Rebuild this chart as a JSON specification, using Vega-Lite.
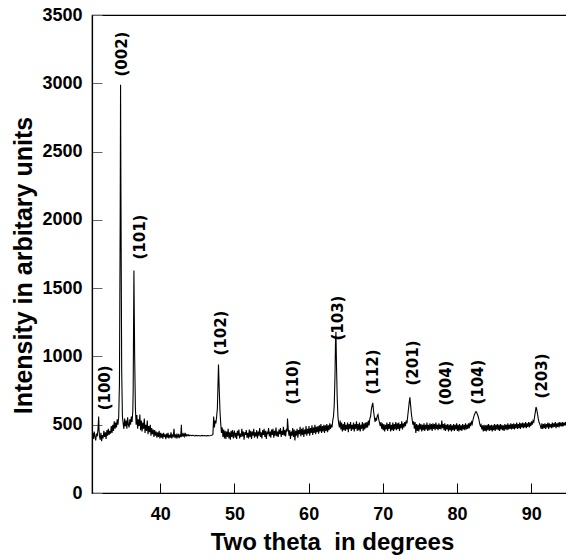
{
  "$schema": "https://vega.github.io/schema/vega-lite/v6.json",
  "autosize": {"type": "none"},
  "padding": {"left": 92, "top": 15, "right": 0, "bottom": 67},
  "width": 480,
  "height": 478,
  "background": "white",
  "config": {
    "view": {"stroke": "black", "strokeWidth": 1.2},
    "axis": {
      "grid": false,
      "labelFont": "Liberation Sans",
      "labelFontWeight": "bold",
      "labelFontSize": 18,
      "labelColor": "black",
      "titleFont": "Liberation Sans",
      "titleFontWeight": "bold",
      "titleFontSize": 24,
      "titleColor": "black",
      "domainColor": "black",
      "domainWidth": 1.2,
      "tickColor": "black",
      "tickSize": -10
    }
  },
  "datasets": {
    "xrd": [
      {"x":30.8,"y":405},{"x":30.9,"y":440},{"x":31.0,"y":395},{"x":31.1,"y":450},{"x":31.2,"y":410},{"x":31.3,"y":385},{"x":31.4,"y":435},{"x":31.5,"y":415},{"x":31.6,"y":460},{"x":31.7,"y":560},{"x":31.75,"y":470},{"x":31.8,"y":420},{"x":31.9,"y":390},{"x":32.0,"y":440},{"x":32.1,"y":380},{"x":32.2,"y":425},{"x":32.3,"y":400},{"x":32.4,"y":455},{"x":32.5,"y":410},{"x":32.6,"y":445},{"x":32.7,"y":395},{"x":32.8,"y":460},{"x":32.9,"y":420},{"x":33.0,"y":470},{"x":33.1,"y":425},{"x":33.2,"y":455},{"x":33.3,"y":435},{"x":33.4,"y":490},{"x":33.5,"y":440},{"x":33.6,"y":500},{"x":33.7,"y":455},{"x":33.8,"y":525},{"x":33.9,"y":470},{"x":34.0,"y":515},{"x":34.1,"y":480},{"x":34.2,"y":540},{"x":34.3,"y":500},{"x":34.4,"y":560},{"x":34.5,"y":800},{"x":34.6,"y":2000},{"x":34.65,"y":2990},{"x":34.7,"y":2200},{"x":34.8,"y":900},{"x":34.9,"y":560},{"x":35.0,"y":510},{"x":35.1,"y":470},{"x":35.2,"y":545},{"x":35.3,"y":490},{"x":35.4,"y":530},{"x":35.5,"y":470},{"x":35.6,"y":555},{"x":35.7,"y":500},{"x":35.8,"y":480},{"x":35.9,"y":540},{"x":36.0,"y":500},{"x":36.1,"y":560},{"x":36.2,"y":520},{"x":36.3,"y":600},{"x":36.35,"y":750},{"x":36.45,"y":1630},{"x":36.55,"y":1000},{"x":36.65,"y":620},{"x":36.75,"y":500},{"x":36.85,"y":570},{"x":36.95,"y":470},{"x":37.05,"y":540},{"x":37.15,"y":490},{"x":37.25,"y":575},{"x":37.35,"y":460},{"x":37.45,"y":530},{"x":37.55,"y":450},{"x":37.65,"y":515},{"x":37.75,"y":470},{"x":37.85,"y":545},{"x":37.95,"y":440},{"x":38.05,"y":500},{"x":38.15,"y":455},{"x":38.25,"y":530},{"x":38.35,"y":430},{"x":38.45,"y":490},{"x":38.55,"y":445},{"x":38.65,"y":500},{"x":38.75,"y":420},{"x":38.85,"y":475},{"x":38.95,"y":430},{"x":39.05,"y":465},{"x":39.15,"y":410},{"x":39.25,"y":460},{"x":39.35,"y":420},{"x":39.45,"y":450},{"x":39.55,"y":405},{"x":39.65,"y":445},{"x":39.75,"y":410},{"x":39.85,"y":455},{"x":39.95,"y":400},{"x":40.05,"y":440},{"x":40.15,"y":405},{"x":40.25,"y":435},{"x":40.35,"y":398},{"x":40.45,"y":440},{"x":40.55,"y":410},{"x":40.65,"y":430},{"x":40.75,"y":395},{"x":40.85,"y":435},{"x":40.95,"y":405},{"x":41.05,"y":440},{"x":41.15,"y":400},{"x":41.25,"y":425},{"x":41.35,"y":405},{"x":41.45,"y":445},{"x":41.55,"y":400},{"x":41.65,"y":430},{"x":41.75,"y":408},{"x":41.85,"y":470},{"x":41.95,"y":405},{"x":42.05,"y":430},{"x":42.15,"y":400},{"x":42.25,"y":435},{"x":42.35,"y":410},{"x":42.45,"y":425},{"x":42.55,"y":402},{"x":42.65,"y":430},{"x":42.75,"y":410},{"x":42.85,"y":500},{"x":42.9,"y":420},{"x":43.0,"y":430},{"x":43.1,"y":412},{"x":43.2,"y":440},{"x":43.3,"y":415},{"x":43.4,"y":432},{"x":43.5,"y":418},{"x":43.6,"y":428},{"x":43.7,"y":420},{"x":43.8,"y":426},{"x":43.9,"y":418},{"x":44.0,"y":424},{"x":44.2,"y":420},{"x":44.4,"y":423},{"x":44.6,"y":418},{"x":44.8,"y":422},{"x":45.0,"y":419},{"x":45.2,"y":421},{"x":45.4,"y":418},{"x":45.6,"y":422},{"x":45.8,"y":419},{"x":46.0,"y":421},{"x":46.2,"y":418},{"x":46.4,"y":420},{"x":46.6,"y":419},{"x":46.8,"y":421},{"x":47.0,"y":424},{"x":47.1,"y":430},{"x":47.2,"y":560},{"x":47.3,"y":480},{"x":47.4,"y":530},{"x":47.5,"y":510},{"x":47.6,"y":560},{"x":47.7,"y":620},{"x":47.85,"y":940},{"x":47.95,"y":760},{"x":48.05,"y":600},{"x":48.15,"y":510},{"x":48.25,"y":440},{"x":48.35,"y":480},{"x":48.45,"y":410},{"x":48.55,"y":465},{"x":48.65,"y":400},{"x":48.75,"y":455},{"x":48.85,"y":395},{"x":48.95,"y":450},{"x":49.05,"y":410},{"x":49.15,"y":470},{"x":49.25,"y":400},{"x":49.35,"y":445},{"x":49.45,"y":390},{"x":49.55,"y":455},{"x":49.65,"y":410},{"x":49.75,"y":460},{"x":49.85,"y":400},{"x":49.95,"y":445},
      {"x":50.0,"y":450},{"x":50.1,"y":405},{"x":50.2,"y":440},{"x":50.3,"y":395},{"x":50.4,"y":455},{"x":50.5,"y":420},{"x":50.6,"y":465},{"x":50.7,"y":400},{"x":50.8,"y":435},{"x":50.9,"y":410},{"x":51.0,"y":470},{"x":51.1,"y":415},{"x":51.2,"y":450},{"x":51.3,"y":390},{"x":51.4,"y":445},{"x":51.5,"y":425},{"x":51.6,"y":460},{"x":51.7,"y":405},{"x":51.8,"y":440},{"x":51.9,"y":400},{"x":52.0,"y":465},{"x":52.1,"y":410},{"x":52.2,"y":455},{"x":52.3,"y":395},{"x":52.4,"y":450},{"x":52.5,"y":420},{"x":52.6,"y":470},{"x":52.7,"y":405},{"x":52.8,"y":445},{"x":52.9,"y":415},{"x":53.0,"y":460},{"x":53.1,"y":400},{"x":53.2,"y":450},{"x":53.3,"y":420},{"x":53.4,"y":475},{"x":53.5,"y":410},{"x":53.6,"y":445},{"x":53.7,"y":400},{"x":53.8,"y":460},{"x":53.9,"y":425},{"x":54.0,"y":470},{"x":54.1,"y":410},{"x":54.2,"y":455},{"x":54.3,"y":395},{"x":54.4,"y":450},{"x":54.5,"y":430},{"x":54.6,"y":475},{"x":54.7,"y":415},{"x":54.8,"y":450},{"x":54.9,"y":405},{"x":55.0,"y":465},{"x":55.1,"y":425},{"x":55.2,"y":470},{"x":55.3,"y":405},{"x":55.4,"y":455},{"x":55.5,"y":420},{"x":55.6,"y":480},{"x":55.7,"y":415},{"x":55.8,"y":450},{"x":55.9,"y":410},{"x":56.0,"y":465},{"x":56.1,"y":430},{"x":56.2,"y":475},{"x":56.3,"y":410},{"x":56.4,"y":455},{"x":56.5,"y":425},{"x":56.6,"y":485},{"x":56.7,"y":420},{"x":56.8,"y":460},{"x":56.9,"y":415},{"x":57.0,"y":470},{"x":57.1,"y":450},{"x":57.15,"y":545},{"x":57.25,"y":470},{"x":57.35,"y":420},{"x":57.45,"y":460},{"x":57.55,"y":395},{"x":57.65,"y":450},{"x":57.75,"y":420},{"x":57.85,"y":475},{"x":57.95,"y":410},{"x":58.05,"y":465},{"x":58.15,"y":385},{"x":58.25,"y":455},{"x":58.35,"y":420},{"x":58.45,"y":470},{"x":58.55,"y":405},{"x":58.65,"y":460},{"x":58.75,"y":430},{"x":58.85,"y":485},{"x":58.95,"y":415},{"x":59.05,"y":470},{"x":59.15,"y":425},{"x":59.25,"y":480},{"x":59.35,"y":410},{"x":59.45,"y":465},{"x":59.55,"y":430},{"x":59.65,"y":490},{"x":59.75,"y":420},{"x":59.85,"y":470},{"x":59.95,"y":435},
      {"x":60.05,"y":490},{"x":60.15,"y":420},{"x":60.25,"y":475},{"x":60.35,"y":440},{"x":60.45,"y":495},{"x":60.55,"y":425},{"x":60.65,"y":480},{"x":60.75,"y":440},{"x":60.85,"y":500},{"x":60.95,"y":430},{"x":61.05,"y":485},{"x":61.15,"y":445},{"x":61.25,"y":490},{"x":61.35,"y":435},{"x":61.45,"y":495},{"x":61.55,"y":450},{"x":61.65,"y":505},{"x":61.75,"y":440},{"x":61.85,"y":490},{"x":61.95,"y":450},{"x":62.05,"y":500},{"x":62.15,"y":440},{"x":62.25,"y":495},{"x":62.35,"y":455},{"x":62.45,"y":505},{"x":62.55,"y":445},{"x":62.65,"y":495},{"x":62.75,"y":460},{"x":62.85,"y":510},{"x":62.95,"y":470},{"x":63.05,"y":500},{"x":63.15,"y":480},{"x":63.25,"y":530},{"x":63.35,"y":560},{"x":63.45,"y":640},{"x":63.55,"y":850},{"x":63.62,"y":1100},{"x":63.68,"y":1180},{"x":63.75,"y":950},{"x":63.85,"y":700},{"x":63.95,"y":560},{"x":64.05,"y":510},{"x":64.15,"y":480},{"x":64.25,"y":530},{"x":64.35,"y":465},{"x":64.45,"y":515},{"x":64.55,"y":450},{"x":64.65,"y":505},{"x":64.75,"y":460},{"x":64.85,"y":520},{"x":64.95,"y":455},{"x":65.05,"y":500},{"x":65.15,"y":465},{"x":65.25,"y":515},{"x":65.35,"y":445},{"x":65.45,"y":505},{"x":65.55,"y":470},{"x":65.65,"y":520},{"x":65.75,"y":455},{"x":65.85,"y":500},{"x":65.95,"y":465},{"x":66.05,"y":515},{"x":66.15,"y":450},{"x":66.25,"y":505},{"x":66.35,"y":470},{"x":66.45,"y":525},{"x":66.55,"y":455},{"x":66.65,"y":505},{"x":66.75,"y":460},{"x":66.85,"y":515},{"x":66.95,"y":450},{"x":67.05,"y":500},{"x":67.15,"y":470},{"x":67.25,"y":520},{"x":67.35,"y":455},{"x":67.45,"y":510},{"x":67.55,"y":465},{"x":67.65,"y":515},{"x":67.75,"y":475},{"x":67.85,"y":520},{"x":67.95,"y":480},{"x":68.05,"y":530},{"x":68.15,"y":495},{"x":68.25,"y":545},{"x":68.35,"y":560},{"x":68.45,"y":610},{"x":68.55,"y":640},{"x":68.65,"y":660},{"x":68.75,"y":600},{"x":68.85,"y":560},{"x":68.95,"y":520},{"x":69.05,"y":550},{"x":69.15,"y":530},{"x":69.25,"y":565},{"x":69.35,"y":575},{"x":69.45,"y":540},{"x":69.55,"y":515},{"x":69.65,"y":490},{"x":69.75,"y":520},{"x":69.85,"y":470},{"x":69.95,"y":510},
      {"x":70.05,"y":460},{"x":70.15,"y":505},{"x":70.25,"y":450},{"x":70.35,"y":500},{"x":70.45,"y":465},{"x":70.55,"y":515},{"x":70.65,"y":455},{"x":70.75,"y":505},{"x":70.85,"y":470},{"x":70.95,"y":520},{"x":71.05,"y":450},{"x":71.15,"y":500},{"x":71.25,"y":460},{"x":71.35,"y":515},{"x":71.45,"y":455},{"x":71.55,"y":505},{"x":71.65,"y":465},{"x":71.75,"y":520},{"x":71.85,"y":460},{"x":71.95,"y":510},{"x":72.05,"y":470},{"x":72.15,"y":515},{"x":72.25,"y":455},{"x":72.35,"y":505},{"x":72.45,"y":475},{"x":72.55,"y":525},{"x":72.65,"y":465},{"x":72.75,"y":510},{"x":72.85,"y":480},{"x":72.95,"y":520},{"x":73.05,"y":490},{"x":73.15,"y":530},{"x":73.25,"y":510},{"x":73.35,"y":560},{"x":73.45,"y":610},{"x":73.55,"y":660},{"x":73.65,"y":700},{"x":73.75,"y":640},{"x":73.85,"y":580},{"x":73.95,"y":540},{"x":74.05,"y":500},{"x":74.15,"y":525},{"x":74.25,"y":470},{"x":74.35,"y":520},{"x":74.45,"y":440},{"x":74.55,"y":505},{"x":74.65,"y":455},{"x":74.75,"y":500},{"x":74.85,"y":450},{"x":74.95,"y":510},{"x":75.05,"y":465},{"x":75.15,"y":505},{"x":75.25,"y":450},{"x":75.35,"y":500},{"x":75.45,"y":460},{"x":75.55,"y":510},{"x":75.65,"y":455},{"x":75.75,"y":500},{"x":75.85,"y":465},{"x":75.95,"y":515},{"x":76.05,"y":455},{"x":76.15,"y":500},{"x":76.25,"y":460},{"x":76.35,"y":510},{"x":76.45,"y":465},{"x":76.55,"y":505},{"x":76.65,"y":455},{"x":76.75,"y":510},{"x":76.85,"y":470},{"x":76.95,"y":505},{"x":77.05,"y":460},{"x":77.15,"y":515},{"x":77.25,"y":470},{"x":77.35,"y":500},{"x":77.45,"y":460},{"x":77.55,"y":510},{"x":77.65,"y":470},{"x":77.75,"y":500},{"x":77.85,"y":465},{"x":77.95,"y":530},{"x":78.05,"y":475},{"x":78.15,"y":505},{"x":78.25,"y":460},{"x":78.35,"y":510},{"x":78.45,"y":455},{"x":78.55,"y":500},{"x":78.65,"y":465},{"x":78.75,"y":505},{"x":78.85,"y":450},{"x":78.95,"y":500},{"x":79.05,"y":460},{"x":79.15,"y":505},{"x":79.25,"y":450},{"x":79.35,"y":495},{"x":79.45,"y":460},{"x":79.55,"y":505},{"x":79.65,"y":455},{"x":79.75,"y":500},{"x":79.85,"y":465},{"x":79.95,"y":510},
      {"x":80.05,"y":455},{"x":80.15,"y":500},{"x":80.25,"y":450},{"x":80.35,"y":505},{"x":80.45,"y":460},{"x":80.55,"y":495},{"x":80.65,"y":455},{"x":80.75,"y":505},{"x":80.85,"y":465},{"x":80.95,"y":500},{"x":81.05,"y":460},{"x":81.15,"y":510},{"x":81.25,"y":465},{"x":81.35,"y":500},{"x":81.45,"y":470},{"x":81.55,"y":510},{"x":81.65,"y":475},{"x":81.75,"y":515},{"x":81.85,"y":490},{"x":81.95,"y":520},{"x":82.05,"y":505},{"x":82.15,"y":535},{"x":82.25,"y":555},{"x":82.35,"y":575},{"x":82.45,"y":585},{"x":82.55,"y":595},{"x":82.65,"y":590},{"x":82.75,"y":575},{"x":82.85,"y":560},{"x":82.95,"y":540},{"x":83.05,"y":510},{"x":83.15,"y":490},{"x":83.25,"y":500},{"x":83.35,"y":465},{"x":83.45,"y":495},{"x":83.55,"y":450},{"x":83.65,"y":500},{"x":83.75,"y":455},{"x":83.85,"y":495},{"x":83.95,"y":450},{"x":84.05,"y":500},{"x":84.15,"y":460},{"x":84.25,"y":505},{"x":84.35,"y":455},{"x":84.45,"y":495},{"x":84.55,"y":460},{"x":84.65,"y":500},{"x":84.75,"y":450},{"x":84.85,"y":495},{"x":84.95,"y":460},{"x":85.05,"y":505},{"x":85.15,"y":455},{"x":85.25,"y":500},{"x":85.35,"y":465},{"x":85.45,"y":505},{"x":85.55,"y":460},{"x":85.65,"y":500},{"x":85.75,"y":455},{"x":85.85,"y":505},{"x":85.95,"y":465},{"x":86.05,"y":500},{"x":86.15,"y":460},{"x":86.25,"y":495},{"x":86.35,"y":455},{"x":86.45,"y":505},{"x":86.55,"y":465},{"x":86.65,"y":500},{"x":86.75,"y":460},{"x":86.85,"y":510},{"x":86.95,"y":465},{"x":87.05,"y":500},{"x":87.15,"y":470},{"x":87.25,"y":510},{"x":87.35,"y":465},{"x":87.45,"y":505},{"x":87.55,"y":470},{"x":87.65,"y":510},{"x":87.75,"y":465},{"x":87.85,"y":505},{"x":87.95,"y":475},{"x":88.05,"y":515},{"x":88.15,"y":470},{"x":88.25,"y":505},{"x":88.35,"y":475},{"x":88.45,"y":515},{"x":88.55,"y":470},{"x":88.65,"y":510},{"x":88.75,"y":480},{"x":88.85,"y":515},{"x":88.95,"y":475},{"x":89.05,"y":510},{"x":89.15,"y":480},{"x":89.25,"y":520},{"x":89.35,"y":475},{"x":89.45,"y":510},{"x":89.55,"y":485},{"x":89.65,"y":520},{"x":89.75,"y":480},{"x":89.85,"y":515},{"x":89.95,"y":490},
      {"x":90.05,"y":525},{"x":90.15,"y":500},{"x":90.25,"y":530},{"x":90.35,"y":520},{"x":90.45,"y":555},{"x":90.55,"y":590},{"x":90.65,"y":630},{"x":90.75,"y":610},{"x":90.85,"y":580},{"x":90.95,"y":545},{"x":91.05,"y":520},{"x":91.15,"y":505},{"x":91.25,"y":490},{"x":91.35,"y":470},{"x":91.45,"y":510},{"x":91.55,"y":470},{"x":91.65,"y":505},{"x":91.75,"y":475},{"x":91.85,"y":510},{"x":91.95,"y":470},{"x":92.05,"y":505},{"x":92.15,"y":480},{"x":92.25,"y":515},{"x":92.35,"y":470},{"x":92.45,"y":510},{"x":92.55,"y":480},{"x":92.65,"y":505},{"x":92.75,"y":475},{"x":92.85,"y":515},{"x":92.95,"y":480},{"x":93.05,"y":510},{"x":93.15,"y":485},{"x":93.25,"y":520},{"x":93.35,"y":475},{"x":93.45,"y":510},{"x":93.55,"y":485},{"x":93.65,"y":515},{"x":93.75,"y":480},{"x":93.85,"y":520},{"x":93.95,"y":490},{"x":94.05,"y":515},{"x":94.15,"y":485},{"x":94.25,"y":520},{"x":94.35,"y":490},{"x":94.45,"y":515},{"x":94.55,"y":495},{"x":94.65,"y":520},{"x":94.75,"y":490},{"x":94.85,"y":525},{"x":94.95,"y":495},{"x":95.05,"y":520},{"x":95.2,"y":500},{"x":95.5,"y":510}
    ],
    "peaks": [
      {"label":"(100)","x":32.55,"y":770},
      {"label":"(002)","x":34.84,"y":3214},
      {"label":"(101)","x":37.27,"y":1874},
      {"label":"(102)","x":48.19,"y":1171},
      {"label":"(110)","x":57.89,"y":812},
      {"label":"(103)","x":63.95,"y":1281},
      {"label":"(112)","x":68.67,"y":886},
      {"label":"(201)","x":74.06,"y":952},
      {"label":"(004)","x":78.51,"y":805},
      {"label":"(104)","x":82.82,"y":812},
      {"label":"(203)","x":91.45,"y":857}
    ]
  },
  "layer": [
    {
      "data": {"name": "xrd"},
      "mark": {"type": "line", "color": "black", "strokeWidth": 1.1, "clip": true},
      "encoding": {
        "x": {
          "field": "x", "type": "quantitative",
          "scale": {"domain": [30.8, 95.5], "nice": false, "zero": false},
          "axis": {"values": [40, 50, 60, 70, 80, 90], "title": "Two theta\u00a0 in degrees", "labelPadding": 22, "titlePadding": 7}
        },
        "y": {
          "field": "y", "type": "quantitative",
          "scale": {"domain": [0, 3500], "nice": false},
          "axis": {"values": [0, 500, 1000, 1500, 2000, 2500, 3000, 3500], "format": "d", "title": "Intensity in arbitary units", "titleFontSize": 25, "labelPadding": 20, "titlePadding": 5, "titleY": 250, "tickColor": "#666"}
        }
      }
    },
    {
      "data": {"name": "peaks"},
      "mark": {"type": "text", "angle": 270, "align": "center", "baseline": "middle", "font": "DejaVu Sans", "fontWeight": "bold", "fontSize": 15, "color": "black"},
      "encoding": {
        "x": {"field": "x", "type": "quantitative"},
        "y": {"field": "y", "type": "quantitative"},
        "text": {"field": "label"}
      }
    }
  ]
}
